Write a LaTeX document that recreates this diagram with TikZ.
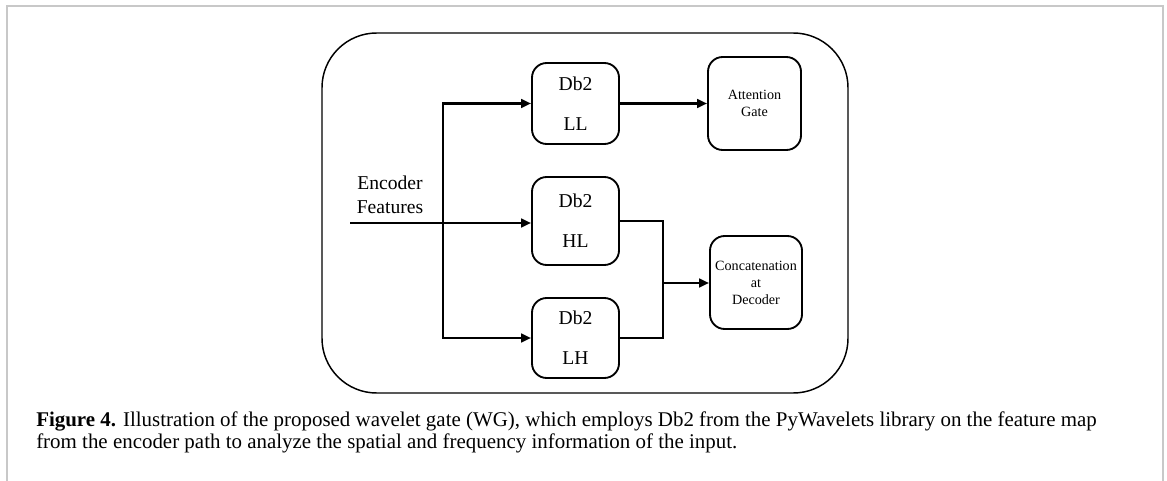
\documentclass[tikz,border=0pt]{standalone}
\usepackage{fontspec}
\setmainfont{Liberation Serif}
\usetikzlibrary{arrows.meta}
\definecolor{framegray}{RGB}{200,200,200}
\begin{document}
\begin{tikzpicture}[x=0.75pt,y=-0.75pt,line join=miter,>={Triangle[length=7.5pt,width=6.5pt]},
	block/.style={draw,line width=1.4pt,rounded corners=11pt,align=center,inner sep=0pt},
	big/.style={font=\fontsize{14.7}{30}\selectfont},
	small/.style={font=\fontsize{10.6}{13}\selectfont},
	wire/.style={line width=1.9pt},
	capline/.style={anchor=base west,inner sep=0pt,font=\fontsize{15.7}{18}\selectfont}]
	\useasboundingbox (0,0) rectangle (1167,481);
	% page frame
	\draw[framegray,line width=1.2pt] (7,481) -- (7,6) -- (1163,6) -- (1163,481);
	% outer gate
	\draw[line width=1.1pt,rounded corners=41pt] (322,33) rectangle (848,393);
	% blocks
	\node[block,big,minimum width=65.25pt,minimum height=60.75pt] (ll) at (575.5,103.5) {Db2\\LL};
	\node[block,big,minimum width=65.25pt,minimum height=66pt] (hl) at (575.5,221) {Db2\\HL};
	\node[block,big,minimum width=65.25pt,minimum height=60pt] (lh) at (575.5,338) {Db2\\LH};
	\node[block,small,minimum width=69.75pt,minimum height=69.75pt] (att) at (754.5,103.5) {Attention\\Gate};
	\node[block,small,font=\fontsize{10.6}{12.75}\selectfont,minimum width=69pt,minimum height=69.75pt] (cat) at (756,282.5) {Concatenation\\at\\Decoder};
	\node[align=center,font=\fontsize{14.7}{18}\selectfont] (enc) at (390,195) {Encoder\\Features};
	% connectors
	\coordinate (in) at (350,223);
	\coordinate (split) at (443,223);
	\coordinate (merge) at (663,283);
	\draw[wire,->] (in) -- (in -| hl.west);
	\draw[wire,->] (split) |- (ll.west);
	\draw[wire,->] (split) |- (lh.west);
	\draw[wire,->] (ll.east) -- (ll.east -| att.west);
	\draw[wire] (hl.east) -| (merge);
	\draw[wire] (lh.east) -| (merge);
	\draw[wire,->] (merge) -- (merge -| cat.west);
	% caption
	\node[capline] (cap1) at (36,426) {\textbf{Figure 4.} Illustration of the proposed wavelet gate (WG), which employs Db2 from the PyWavelets library on the feature map};
	\node[capline] (cap2) at (36,448) {from the encoder path to analyze the spatial and frequency information of the input.};
\end{tikzpicture}
\end{document}
